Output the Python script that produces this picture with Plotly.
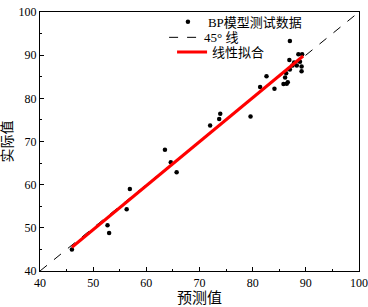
import plotly.graph_objects as go

# Test data: predicted vs actual
pred = [46.0, 52.7, 53.0, 56.3, 56.9, 63.5, 64.6, 65.7, 72.0, 73.7, 73.9, 79.6,
        81.4, 82.6, 84.1, 85.8, 86.1, 86.6, 86.3, 87.0, 88.6, 89.3, 86.9, 87.8,
        88.9, 89.2, 88.3, 87.5, 89.2, 87.0, 86.4]
actual = [45.0, 50.6, 48.8, 54.3, 59.0, 68.1, 65.2, 62.9, 73.7, 75.2, 76.4, 75.8,
          82.6, 85.1, 82.2, 83.3, 84.8, 83.7, 85.8, 93.3, 90.2, 90.2, 88.9, 88.3,
          88.5, 87.4, 87.6, 87.6, 86.3, 86.7, 83.4]

ref_x = [40, 100]
ref_y = [40, 100]

fit_x = [46.0, 89.5]
fit_y = [45.5, 89.8]

FONT = "Liberation Serif, Noto Sans CJK SC"

fig = go.Figure()
fig.add_trace(go.Scatter(x=pred, y=actual, mode="markers", name="BP模型测试数据",
                         marker=dict(color="black", size=4.5), legend="legend"))
fig.add_trace(go.Scatter(x=ref_x, y=ref_y, mode="lines", name="45° 线",
                         line=dict(color="black", width=1, dash="dash"), legend="legend2"))
fig.add_trace(go.Scatter(x=fit_x, y=fit_y, mode="lines", name="线性拟合",
                         line=dict(color="red", width=3), legend="legend3"))

axis_common = dict(range=[40, 100], dtick=10, showline=True, linecolor="black",
                   linewidth=1.2, mirror=True, ticks="inside", ticklen=4,
                   tickcolor="black", showgrid=False, zeroline=False,
                   automargin=False,
                   minor=dict(ticks="inside", ticklen=2, dtick=5, tickcolor="black"),
                   tickfont=dict(family=FONT, size=12, color="black"))

fig.update_xaxes(**axis_common, title=dict(text="预测值", font=dict(family=FONT, size=15, color="black"), standoff=2))
fig.update_yaxes(**axis_common, title=dict(text="实际值", font=dict(family=FONT, size=14, color="black"), standoff=6))

leg_common = dict(xanchor="left", yanchor="middle", bgcolor="rgba(0,0,0,0)",
                  itemwidth=30, font=dict(family=FONT, size=13, color="black"))

fig.update_layout(
    width=368, height=307,
    margin=dict(l=40, r=9, t=7, b=36),
    paper_bgcolor="white", plot_bgcolor="white",
    showlegend=True,
    legend=dict(x=0.401, y=0.962, **leg_common),
    legend2=dict(x=0.389, y=0.902, **leg_common),
    legend3=dict(x=0.414, y=0.845, **leg_common),
)

fig.write_html("out.html", config={"displayModeBar": False},
               post_script="document.body.style.margin='0';document.body.style.overflow='hidden';")
